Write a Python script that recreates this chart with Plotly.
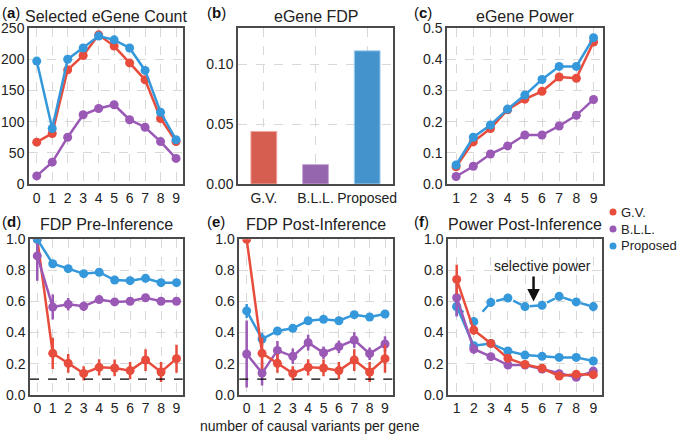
import plotly.graph_objects as go

# ---------------- data ----------------
x_count = list(range(10))
count_gv = [67, 81, 183, 206, 239, 221, 194, 167, 105, 68]
count_bll = [13, 35, 75, 111, 121, 127, 103, 91, 68, 41]
count_prop = [197, 89, 200, 218, 237, 231, 218, 182, 115, 71]

methods = ["G.V.", "B.L.L.", "Proposed"]
egene_fdp = [0.0438, 0.0162, 0.111]

x_power = list(range(1, 10))
power_gv = [0.055, 0.135, 0.178, 0.238, 0.272, 0.297, 0.343, 0.339, 0.455]
power_bll = [0.024, 0.057, 0.096, 0.122, 0.157, 0.157, 0.186, 0.220, 0.271]
power_prop = [0.061, 0.150, 0.189, 0.240, 0.285, 0.335, 0.377, 0.377, 0.469]

x_fdp = list(range(10))
pre_gv = [1.0, 0.266, 0.202, 0.137, 0.176, 0.172, 0.155, 0.223, 0.146, 0.232]
pre_gv_err = [0.0, 0.10, 0.06, 0.046, 0.052, 0.054, 0.056, 0.07, 0.065, 0.09]
pre_bll = [0.893, 0.564, 0.582, 0.569, 0.612, 0.597, 0.601, 0.624, 0.601, 0.601]
pre_bll_err = [0.16, 0.08, 0.04, 0.03, 0.02, 0.015, 0.015, 0.015, 0.015, 0.015]
pre_prop = [1.0, 0.843, 0.811, 0.779, 0.788, 0.738, 0.734, 0.749, 0.721, 0.721]
pre_prop_err = [0.01] * 10

post_gv = [1.0, 0.266, 0.202, 0.137, 0.176, 0.172, 0.155, 0.223, 0.146, 0.232]
post_gv_err = [0.0, 0.10, 0.06, 0.046, 0.052, 0.054, 0.056, 0.07, 0.065, 0.09]
post_bll = [0.262, 0.139, 0.285, 0.247, 0.335, 0.270, 0.309, 0.352, 0.264, 0.326]
post_bll_err = [0.215, 0.08, 0.06, 0.05, 0.05, 0.04, 0.04, 0.05, 0.04, 0.05]
post_prop = [0.539, 0.358, 0.410, 0.427, 0.476, 0.485, 0.476, 0.515, 0.500, 0.519]
post_prop_err = [0.045, 0.04, 0.025, 0.02, 0.02, 0.015, 0.015, 0.015, 0.015, 0.02]

pp_gv = [0.742, 0.416, 0.330, 0.234, 0.195, 0.170, 0.120, 0.131, 0.129]
pp_gv_err = [0.095, 0.03, 0.02, 0.015, 0.01, 0.01, 0.01, 0.01, 0.01]
pp_bll = [0.624, 0.294, 0.245, 0.191, 0.191, 0.165, 0.135, 0.112, 0.152]
pp_bll_err = [0.12, 0.03, 0.02, 0.015, 0.01, 0.01, 0.01, 0.01, 0.01]
pp_prop = [0.567, 0.315, 0.330, 0.281, 0.255, 0.247, 0.240, 0.240, 0.217]
pp_prop_err = [0.06, 0.02, 0.015, 0.01, 0.01, 0.01, 0.01, 0.01, 0.01]
sel_power = [0.567, 0.470, 0.594, 0.622, 0.567, 0.575, 0.633, 0.597, 0.567]
sel_power_err = [0.03, 0.03, 0.03, 0.025, 0.025, 0.025, 0.025, 0.025, 0.03]

RED, PURPLE, BLUE = "#E74C3C", "#9B59B6", "#3498DB"
FONT = "Liberation Sans, Arial, sans-serif"
W, H = 679, 436

fig = go.Figure()


def line(x, y, color, xa, ya, err=None, dash="solid"):
    kw = {}
    if err is not None:
        kw["error_y"] = dict(type="data", array=err, visible=True, color=color,
                             thickness=2.5, width=0)
    fig.add_trace(go.Scatter(x=x, y=y, mode="lines+markers", xaxis=xa, yaxis=ya,
                             line=dict(color=color, width=2.5, dash=dash),
                             marker=dict(color=color, size=9), showlegend=False, **kw))


# (a)
line(x_count, count_gv, RED, "x", "y")
line(x_count, count_bll, PURPLE, "x", "y")
line(x_count, count_prop, BLUE, "x", "y")
# (b)
fig.add_trace(go.Bar(x=methods, y=egene_fdp, xaxis="x2", yaxis="y2", width=0.5,
                     marker=dict(color=["#D65E50", "#9565AE", "#4493CD"],
                                 line=dict(color=["#F0A8A0", "#C9A8DA", "#A8D0EE"], width=1)),
                     showlegend=False))
# (c)
line(x_power, power_gv, RED, "x3", "y3")
line(x_power, power_bll, PURPLE, "x3", "y3")
line(x_power, power_prop, BLUE, "x3", "y3")
# (d)
line(x_fdp, pre_gv, RED, "x4", "y4", pre_gv_err)
line(x_fdp, pre_bll, PURPLE, "x4", "y4", pre_bll_err)
line(x_fdp, pre_prop, BLUE, "x4", "y4", pre_prop_err)
# (e)
line(x_fdp, post_bll, PURPLE, "x5", "y5", post_bll_err)
line(x_fdp, post_prop, BLUE, "x5", "y5", post_prop_err)
line(x_fdp, post_gv, RED, "x5", "y5", post_gv_err)
# (f)
line(x_power, sel_power, BLUE, "x6", "y6", sel_power_err, dash="dash")
line(x_power, pp_prop, BLUE, "x6", "y6", pp_prop_err)
line(x_power, pp_bll, PURPLE, "x6", "y6", pp_bll_err)
line(x_power, pp_gv, RED, "x6", "y6", pp_gv_err)


def px_x(a, b):
    return [a / W, b / W]


def px_y(top, bottom):
    return [1 - bottom / H, 1 - top / H]


axis_common = dict(showline=True, mirror=True, linecolor="#4a4a4a", linewidth=1.5,
                   showgrid=True, gridcolor="#d8d8d8", griddash="dash", gridwidth=1,
                   zeroline=False, ticks="", automargin=False, tickangle=0,
                   tickfont=dict(size=14, color="#222"))

top = px_y(28, 184)
bot = px_y(239.3, 394.7)
yt = [0, 0.2, 0.4, 0.6, 0.8, 1.0]

layout_axes = {
    "xaxis": dict(domain=px_x(29, 183), range=[-0.5, 9.45], tickvals=x_count, anchor="y"),
    "yaxis": dict(domain=top, range=[0, 250], tickvals=[0, 50, 100, 150, 200, 250], anchor="x"),
    "xaxis2": dict(domain=px_x(238, 393), anchor="y2", range=[-0.5, 2.5]),
    "yaxis2": dict(domain=top, range=[0, 0.13], tickvals=[0, 0.05, 0.10], tickformat=".2f", anchor="x2"),
    "xaxis3": dict(domain=px_x(447, 603), range=[0.47, 9.55], tickvals=x_power, anchor="y3"),
    "yaxis3": dict(domain=top, range=[0, 0.5], tickvals=[0, 0.1, 0.2, 0.3, 0.4, 0.5], tickformat=".1f", anchor="x3"),
    "xaxis4": dict(domain=px_x(30, 182.7), range=[-0.47, 9.4], tickvals=x_fdp, anchor="y4"),
    "yaxis4": dict(domain=bot, range=[0, 1], tickvals=yt, tickformat=".1f", anchor="x4"),
    "xaxis5": dict(domain=px_x(239.3, 392.7), range=[-0.48, 9.5], tickvals=x_fdp, anchor="y5"),
    "yaxis5": dict(domain=bot, range=[0, 1], tickvals=yt, tickformat=".1f", anchor="x5"),
    "xaxis6": dict(domain=px_x(448, 602), range=[0.49, 9.51], tickvals=x_power, anchor="y6"),
    "yaxis6": dict(domain=bot, range=[0, 1], tickvals=yt, tickformat=".1f", anchor="x6"),
}
for k, v in layout_axes.items():
    d = dict(axis_common)
    d.update(v)
    layout_axes[k] = d

shapes = []
for xa, ya in [("x4", "y4"), ("x5", "y5")]:
    shapes.append(dict(type="line", xref=xa + " domain", yref=ya, x0=0, x1=1, y0=0.1, y1=0.1,
                       line=dict(color="black", width=1.3, dash="dash")))

annotations = []
titles = [("Selected eGene Count", 106, 16), ("eGene FDP", 315.5, 16), ("eGene Power", 525, 16),
          ("FDP Pre-Inference", 106, 225), ("FDP Post-Inference", 316, 225), ("Power Post-Inference", 525, 225)]
for t, cx, cy in titles:
    annotations.append(dict(text=t, x=cx / W, y=1 - cy / H, xref="paper", yref="paper",
                            showarrow=False, xanchor="center", yanchor="middle",
                            font=dict(size=16, color="#222")))
labels = [("a", 0, 12), ("b", 205, 12), ("c", 412, 12), ("d", 0, 221), ("e", 205, 221), ("f", 412, 221)]
for l, lx, ly in labels:
    annotations.append(dict(text="(<b>%s</b>)" % l, x=lx / W, y=1 - ly / H, xref="paper", yref="paper",
                            showarrow=False, xanchor="left", yanchor="middle",
                            font=dict(size=15, color="#111")))
annotations.append(dict(text="number of causal variants per gene", x=310 / W, y=1 - 426 / H,
                        xref="paper", yref="paper", showarrow=False, xanchor="center",
                        yanchor="middle", font=dict(size=14, color="#222")))
annotations.append(dict(text="selective power", x=6.0, y=0.83, xref="x6", yref="y6", showarrow=False,
                        font=dict(size=14, color="#222"), xanchor="center", yanchor="middle"))
annotations.append(dict(x=5.5, y=0.6, ax=5.5, ay=0.77, xref="x6", yref="y6", axref="x6", ayref="y6",
                        showarrow=True, arrowhead=2, arrowsize=1, arrowwidth=2.5, arrowcolor="#111", text=""))

# manual legend
for i, (name, c) in enumerate(zip(methods, [RED, PURPLE, BLUE])):
    cy = 212 + 17 * i
    shapes.append(dict(type="circle", xref="paper", yref="paper",
                       x0=609.5 / W, x1=616.5 / W, y0=1 - (cy + 3.5) / H, y1=1 - (cy - 3.5) / H,
                       fillcolor=c, line=dict(width=0)))
    annotations.append(dict(text=name, x=619 / W, y=1 - cy / H, xref="paper", yref="paper",
                            showarrow=False, xanchor="left", yanchor="middle",
                            font=dict(size=13, color="#222")))

fig.update_layout(
    width=W, height=H, margin=dict(l=0, r=0, t=0, b=0, autoexpand=False),
    paper_bgcolor="white", plot_bgcolor="white", showlegend=False,
    font=dict(family=FONT, size=14, color="#222"),
    shapes=shapes, annotations=annotations, **layout_axes)

fig.write_html("out.html", config={"displayModeBar": False},
               post_script="document.body.style.margin='0';document.body.style.overflow='hidden';")
